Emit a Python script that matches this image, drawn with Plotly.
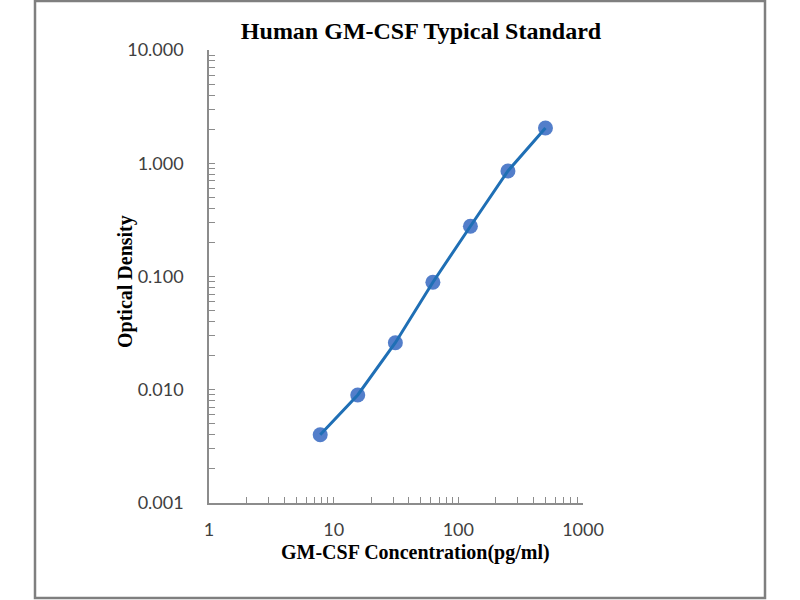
import plotly.graph_objects as go

# Data
concentration = [7.8, 15.6, 31.25, 62.5, 125, 250, 500]
optical_density = [0.004, 0.009, 0.026, 0.089, 0.278, 0.855, 2.05]
y_tick_vals = [0.001, 0.01, 0.1, 1, 10]
x_tick_vals = [1, 10, 100, 1000]
x_tick_text = ["1", "10", "100", "1000"]

W, H = 800, 600
L, R, T, B = 209, 583, 50, 503  # plot area pixel box
pw, ph = R - L, B - T

def px_x(p):
    return (p - L) / pw

def px_y(p):
    return (B - p) / ph

axis_col = "#8c8c8c"
tick_font = dict(family="Lato, Noto Sans, sans-serif", size=18, color="#404040")
title_font = dict(family="Liberation Serif, Times New Roman, serif", size=20, color="#000000")

fig = go.Figure()
fig.add_trace(go.Scatter(
    x=concentration, y=optical_density, mode="markers",
    marker=dict(size=15, color="rgba(64,112,196,0.9)", line=dict(width=0)),
    showlegend=False, hoverinfo="skip"))
fig.add_trace(go.Scatter(
    x=concentration, y=optical_density, mode="lines",
    line=dict(color="#1f6fb5", width=3), showlegend=False))

fig.update_layout(
    width=W, height=H,
    margin=dict(l=L, r=W - R, t=T, b=H - B),
    paper_bgcolor="white", plot_bgcolor="white",
    title=dict(text="<b>Human GM-CSF Typical Standard</b>",
               x=421 / W, xanchor="center", y=1 - 31 / H, yanchor="middle",
               font=dict(family="Liberation Serif, Times New Roman, serif", size=24, color="#000000")),
    xaxis=dict(type="log", range=[0, 3], tickvals=x_tick_vals, ticktext=x_tick_text,
               showgrid=False, zeroline=False, showline=True, linecolor=axis_col, linewidth=1.5,
               ticks="inside", ticklen=6, tickcolor=axis_col, tickwidth=1,
               minor=dict(ticks="inside", ticklen=6, tickcolor=axis_col, dtick="D1", showgrid=False),
               tickfont=tick_font, ticklabelstandoff=10),
    yaxis=dict(type="log", range=[-3, 1], tickvals=y_tick_vals, tickformat=".3f",
               showgrid=False, zeroline=False, showline=True, linecolor=axis_col, linewidth=1.5,
               ticks="inside", ticklen=6, tickcolor=axis_col, tickwidth=1,
               minor=dict(ticks="inside", ticklen=6, tickcolor=axis_col, dtick="D1", showgrid=False),
               tickfont=tick_font, ticklabelstandoff=20),
    annotations=[
        dict(text="<b>GM-CSF Concentration(pg/ml)</b>", xref="paper", yref="paper",
             x=px_x(415), y=px_y(552), xanchor="center", yanchor="middle",
             showarrow=False, font=title_font),
        dict(text="<b>Optical Density</b>", xref="paper", yref="paper",
             x=px_x(125), y=px_y(282), xanchor="center", yanchor="middle",
             textangle=-90, showarrow=False, font=title_font),
    ],
    shapes=[dict(type="rect", xref="paper", yref="paper",
                 x0=px_x(35), x1=px_x(765), y0=px_y(598), y1=px_y(1),
                 line=dict(color="#7f7f7f", width=2.5), fillcolor="rgba(0,0,0,0)", layer="below")],
)

fig.write_html("out.html", config={"displayModeBar": False},
               post_script="document.body.style.margin='0';")
